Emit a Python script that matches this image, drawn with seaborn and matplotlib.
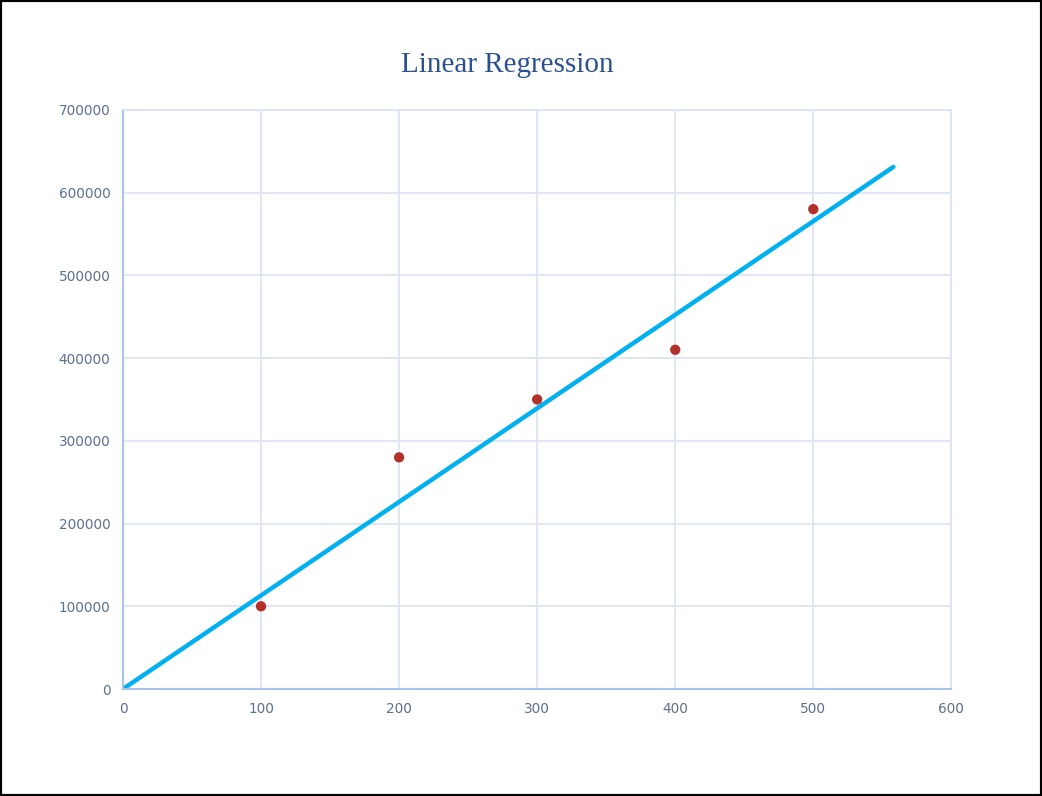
import matplotlib.pyplot as plt
import matplotlib.patches as patches
import seaborn as sns
import pandas as pd

# data points
size = [100, 200, 300, 400, 500]
price = [100000, 280000, 350000, 410000, 580000]

# fitted trend line (ends as drawn in the reference)
trend_x = [0, 558]
trend_y = [0, 631000]

sns.set_theme(style="whitegrid")
plt.rcParams['font.family'] = ['DejaVu Sans']

df = pd.DataFrame({"x": size, "y": price})
df_line = pd.DataFrame({"x": trend_x, "y": trend_y})

fig = plt.figure(figsize=(10.42, 7.96), dpi=100)
ax = fig.add_axes([0.118, 0.1344, 0.795, 0.7276])

sns.lineplot(data=df_line, x="x", y="y", ax=ax, color="#00b0f0", linewidth=3.2, zorder=2)
sns.scatterplot(data=df, x="x", y="y", ax=ax, color="#b3312b", s=55, edgecolor="none", zorder=3)

ax.set_xlim(0, 600)
ax.set_ylim(0, 700000)
ax.set_xticks(range(0, 601, 100))
ax.set_yticks(range(0, 700001, 100000))
ax.set_xlabel("")
ax.set_ylabel("")

grid_col = "#d9e3f2"
ax.grid(True, color=grid_col, linewidth=1.2)
for side in ["top", "right"]:
    ax.spines[side].set_color(grid_col)
    ax.spines[side].set_linewidth(1.2)
for side in ["left", "bottom"]:
    ax.spines[side].set_color("#a9c4eb")
    ax.spines[side].set_linewidth(1.5)
ax.tick_params(length=0, labelsize=9.8, labelcolor="#5d7090", pad=9)

fig.text(0.487, 0.918, "Linear Regression", ha="center", va="center",
         family=["Liberation Serif", "DejaVu Serif"], fontsize=21, color="#2b5191")

fig.patches.append(patches.Rectangle((0, 0), 1, 1, transform=fig.transFigure,
                                     fill=False, edgecolor="black", linewidth=3))

fig.savefig("out.png", dpi=100, facecolor="white")
